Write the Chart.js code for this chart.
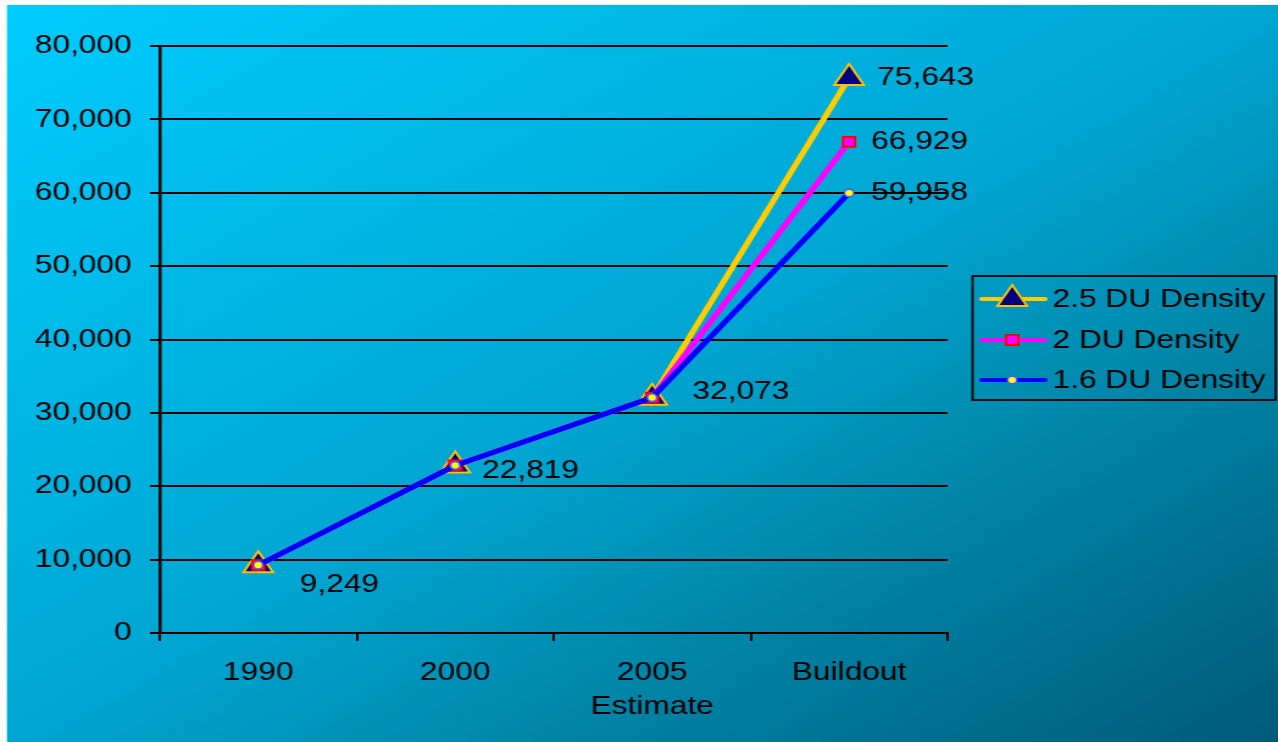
<!DOCTYPE html>
<html>
<head>
<meta charset="utf-8">
<script src="https://cdn.jsdelivr.net/npm/chart.js@4.4.1/dist/chart.umd.min.js"></script>
<style>
    html, body { margin: 0; padding: 0; background: #fff; overflow: hidden; }
    #wrap {
        width: 1048px;
        height: 742px;
        transform: scaleX(1.2195);
        transform-origin: 0 0;
    }
</style>
</head>
<body>
<div id="wrap"><canvas id="popChart" width="1048" height="742"></canvas></div>
<script>
const categories = ['1990', '2000', ['2005', 'Estimate'], 'Buildout'];
const seriesNames = ['2.5 DU Density', '2 DU Density', '1.6 DU Density'];
const density25 = [9249, 22819, 32073, 75643];
const density20 = [9249, 22819, 32073, 66929];
const density16 = [9249, 22819, 32073, 59958];
const yMin = 0;
const yMax = 80000;
const yStep = 10000;

const FONT = "'Liberation Sans', Arial, sans-serif";
const fmt = v => v.toLocaleString('en-US');

// where the value labels sit next to their point (dataset, index, dx, dy)
const labelSpots = [
    [2, 0, 34, 20],
    [2, 1, 22, 5],
    [2, 2, 33, -6],
    [0, 3, 23, 0],
    [1, 3, 18, 0],
    [2, 3, 18, 0]
];

const background = {
    id: 'background',
    beforeDraw(chart) {
        const { ctx, width, height } = chart;
        ctx.save();
        ctx.fillStyle = '#fff';
        ctx.fillRect(0, 0, width, height);
        const x0 = 5.7, y0 = 5;
        const w = width - x0, h = height - y0;
        const k = (2 * w * h) / (w * w + h * h);
        const g = ctx.createLinearGradient(x0, y0, x0 + h * k, y0 + w * k);
        g.addColorStop(0, '#00ccff');
        g.addColorStop(0.5, '#00a6d2');
        g.addColorStop(0.73, '#0082a4');
        g.addColorStop(1, '#005a78');
        ctx.fillStyle = g;
        ctx.fillRect(x0, y0, w, h);
        ctx.restore();
    }
};

const valueLabels = {
    id: 'valueLabels',
    afterDatasetsDraw(chart) {
        const ctx = chart.ctx;
        ctx.save();
        ctx.font = '26px ' + FONT;
        ctx.fillStyle = '#000';
        ctx.textAlign = 'left';
        ctx.textBaseline = 'middle';
        labelSpots.forEach(([ds, i, dx, dy]) => {
            const pt = chart.getDatasetMeta(ds).data[i];
            const val = chart.data.datasets[ds].data[i];
            ctx.fillText(fmt(val), pt.x + dx, pt.y + dy);
        });
        ctx.restore();
    }
};

function drawMarker(ctx, style, r, x, y) {
    if (style === 'triangle') {
        ctx.moveTo(x, y - r);
        ctx.lineTo(x + Math.sin(Math.PI * 2 / 3) * r, y + r / 2);
        ctx.lineTo(x - Math.sin(Math.PI * 2 / 3) * r, y + r / 2);
        ctx.closePath();
    } else if (style === 'rect') {
        const s = Math.SQRT1_2 * r;
        ctx.rect(x - s, y - s, 2 * s, 2 * s);
    } else {
        ctx.arc(x, y, r, 0, Math.PI * 2);
    }
}

const boxLegend = {
    id: 'boxLegend',
    afterDraw(chart) {
        const ctx = chart.ctx;
        const left = 797.5, top = 276, right = 1046, bottom = 400;
        const rows = [299, 340, 380];
        ctx.save();
        ctx.strokeStyle = '#000';
        ctx.lineWidth = 1.8;
        ctx.strokeRect(left, top, right - left, bottom - top);
        ctx.font = '26px ' + FONT;
        ctx.textAlign = 'left';
        ctx.textBaseline = 'middle';
        chart.data.datasets.forEach((ds, i) => {
            const y = rows[i];
            ctx.strokeStyle = ds.borderColor;
            ctx.lineWidth = 4;
            ctx.lineCap = 'round';
            ctx.beginPath();
            ctx.moveTo(805, y);
            ctx.lineTo(857, y);
            ctx.stroke();
            ctx.lineCap = 'butt';
            ctx.fillStyle = ds.pointBackgroundColor;
            ctx.strokeStyle = ds.pointBorderColor;
            ctx.lineWidth = ds.pointBorderWidth;
            ctx.beginPath();
            drawMarker(ctx, ds.pointStyle, ds.pointRadius, 830, y);
            ctx.fill();
            ctx.stroke();
            ctx.fillStyle = '#000';
            ctx.fillText(ds.label, 863, y + 1);
        });
        ctx.restore();
    }
};

new Chart(document.getElementById('popChart'), {
    type: 'line',
    data: {
        labels: categories,
        datasets: [{
            label: seriesNames[0],
            data: density25,
            borderColor: '#ffcc00',
            borderWidth: 5,
            pointStyle: 'triangle',
            pointRadius: 14,
            pointBackgroundColor: '#000080',
            pointBorderColor: '#ffc000',
            pointBorderWidth: 2,
            order: 3
        }, {
            label: seriesNames[1],
            data: density20,
            borderColor: '#ff00ff',
            borderWidth: 5,
            pointStyle: 'rect',
            pointRadius: 7,
            pointBackgroundColor: '#ff00ff',
            pointBorderColor: '#ff0000',
            pointBorderWidth: 2,
            order: 2
        }, {
            label: seriesNames[2],
            data: density16,
            borderColor: '#0000ff',
            borderWidth: 5,
            pointStyle: 'circle',
            pointRadius: 3.8,
            pointBackgroundColor: '#ffff00',
            pointBorderColor: '#4a5cff',
            pointBorderWidth: 1.5,
            order: 1
        }]
    },
    options: {
        responsive: false,
        animation: false,
        layout: {
            padding: { top: 46, right: 271, bottom: 0, left: 0 }
        },
        plugins: {
            legend: { display: false },
            tooltip: { enabled: false }
        },
        scales: {
            x: {
                offset: true,
                afterFit: (scale) => { scale.height = 109; },
                grid: {
                    offset: true,
                    color: (ctx) => ctx.index === categories.length ? '#000' : 'rgba(0,0,0,0)',
                    tickColor: '#000',
                    lineWidth: 2,
                    tickLength: 8
                },
                border: { color: '#000', width: 2 },
                ticks: {
                    color: '#000',
                    padding: 15,
                    maxRotation: 0,
                    font: { family: FONT, size: 26, lineHeight: 1.3 }
                }
            },
            y: {
                min: yMin,
                max: yMax,
                afterFit: (scale) => { scale.width = 131; },
                grid: {
                    color: '#000',
                    lineWidth: 2,
                    tickLength: 8
                },
                border: { color: '#000', width: 2.5 },
                ticks: {
                    stepSize: yStep,
                    color: '#000',
                    padding: 15,
                    font: { family: FONT, size: 26 },
                    callback: (v) => fmt(v)
                }
            }
        }
    },
    plugins: [background, valueLabels, boxLegend]
});
</script>
</body>
</html>
